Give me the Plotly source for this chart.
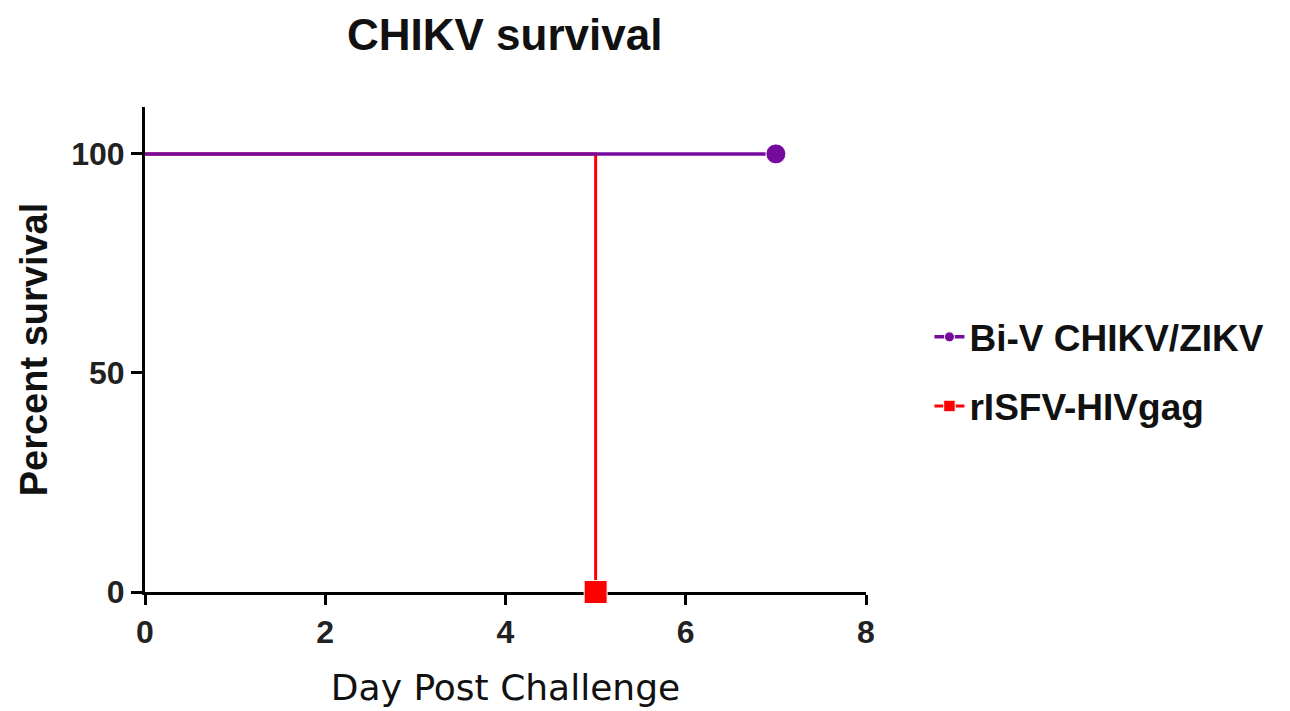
import plotly.graph_objects as go

# Data
bi_days = [0, 7]
bi_survival = [100, 100]
r_days = [0, 5]
r_survival = [100, 0]
x_ticks = [0, 2, 4, 6, 8]
y_ticks = [0, 50, 100]

PURPLE = "#760A9C"
RED = "#FF0000"

fig = go.Figure()

fig.add_trace(go.Scatter(
    x=r_days, y=r_survival, name="rISFV-HIVgag",
    mode="lines+markers", line=dict(color=RED, width=3, shape="hv"),
    marker=dict(symbol="square", size=[0, 23], color=RED, opacity=1),
    cliponaxis=False, legendrank=2, legendgroup="b",
))
fig.add_trace(go.Scatter(
    x=bi_days, y=bi_survival, name="Bi-V CHIKV/ZIKV",
    mode="lines+markers", line=dict(color=PURPLE, width=3.5),
    marker=dict(symbol="circle", size=[0, 20], color=PURPLE, opacity=1),
    cliponaxis=False, legendrank=1, legendgroup="a",
))

font_family = "Liberation Sans, Arial, sans-serif"

fig.update_layout(
    width=1290, height=711,
    margin=dict(l=137, r=432, t=99, b=127),
    plot_bgcolor="white", paper_bgcolor="white",
    title=dict(text="CHIKV survival", x=0.385, xanchor="center", y=0.962, yanchor="middle",
               font=dict(family=font_family, size=44, color="#111", weight="bold")),
    showlegend=True,
    legend=dict(x=1.088, xanchor="left", y=0.454, yanchor="middle",
                font=dict(family=font_family, size=37, color="#111", weight="bold"),
                tracegroupgap=18, traceorder="grouped", itemsizing="trace"),
    xaxis=dict(range=[0, 8], tickvals=x_ticks, showline=True, linecolor="black", linewidth=3,
               ticks="outside", ticklen=10, tickwidth=3, tickcolor="black", showgrid=False,
               zeroline=False, layer="below traces",
               tickfont=dict(family=font_family, size=32, color="#222", weight="bold"),
               title=dict(text="Day Post Challenge", standoff=26,
                          font=dict(family="DejaVu Sans, sans-serif", size=36, color="#111"))),
    yaxis=dict(range=[0, 110.7], tickvals=y_ticks, showline=True, linecolor="black", linewidth=3,
               ticks="outside", ticklen=11, tickwidth=3, tickcolor="black", showgrid=False,
               zeroline=False, layer="below traces",
               tickfont=dict(family=font_family, size=32, color="#222", weight="bold"),
               title=dict(text="Percent survival", standoff=12,
                          font=dict(family=font_family, size=38, color="#111", weight="bold"))),
)

fig.write_html("out.html")
